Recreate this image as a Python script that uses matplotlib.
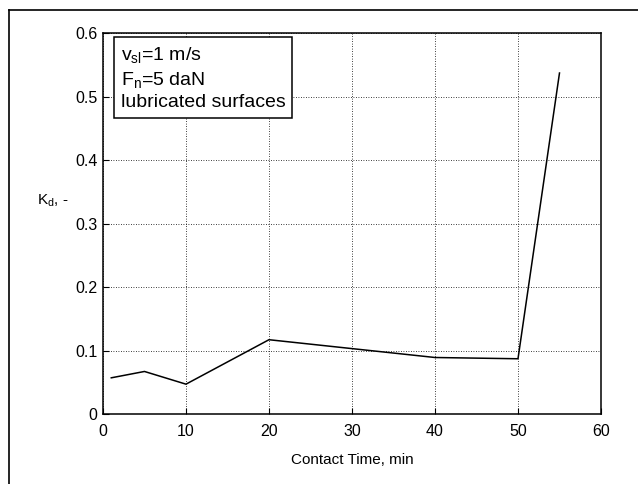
import matplotlib
matplotlib.use("Agg")
import matplotlib.pyplot as plt
from matplotlib.lines import Line2D

plt.rcParams["font.family"] = ["Liberation Sans", "DejaVu Sans"]
plt.rcParams["mathtext.fontset"] = "custom"
plt.rcParams["mathtext.rm"] = "Liberation Sans"
plt.rcParams["mathtext.it"] = "Liberation Sans"

# contact time (min) vs. friction coefficient Kd
contact_time = [1, 5, 10, 20, 40, 50, 55]
kd = [0.057, 0.067, 0.047, 0.117, 0.089, 0.087, 0.537]
x_ticks = [0, 10, 20, 30, 40, 50, 60]
y_ticks = [0, 0.1, 0.2, 0.3, 0.4, 0.5, 0.6]
y_ticklabels = ["0", "0.1", "0.2", "0.3", "0.4", "0.5", "0.6"]

fig = plt.figure(figsize=(6.38, 4.84), dpi=100)
ax = fig.add_axes([0.1614, 0.1446, 0.7806, 0.7872])

ax.plot(contact_time, kd, color="black", linewidth=1.1)

ax.set_xlim(0, 60)
ax.set_ylim(0, 0.6)
ax.set_xticks(x_ticks)
ax.set_yticks(y_ticks)
ax.set_yticklabels(y_ticklabels)
ax.tick_params(direction="in", length=4, width=0.8, labelsize=11.5)
ax.tick_params(axis="x", pad=7)
ax.tick_params(axis="y", pad=4)
ax.grid(True, linestyle=(0, (1, 2)), color="black", linewidth=0.6)
for s in ax.spines.values():
    s.set_linewidth(1.1)

ax.set_xlabel("Contact Time, min", fontsize=11, labelpad=10)
fig.text(0.058, 0.585, r"K$_\mathregular{d}$, -", fontsize=11,
         ha="left", va="center")

ax.text(0.036, 0.968,
        "v$_\\mathregular{sl}$=1 m/s\nF$_\\mathregular{n}$=5 daN\nlubricated surfaces",
        transform=ax.transAxes, ha="left", va="top", fontsize=14,
        linespacing=1.32,
        bbox=dict(boxstyle="square,pad=0.35", facecolor="white",
                  edgecolor="black", linewidth=1.1))

# outer frame, left and top edges
fig.add_artist(Line2D([0.0145, 0.0145], [0.0, 0.979], color="black",
                      linewidth=1.2, transform=fig.transFigure))
fig.add_artist(Line2D([0.0145, 1.0], [0.979, 0.979], color="black",
                      linewidth=1.2, transform=fig.transFigure))

fig.savefig("out.png", dpi=100, facecolor="white")
